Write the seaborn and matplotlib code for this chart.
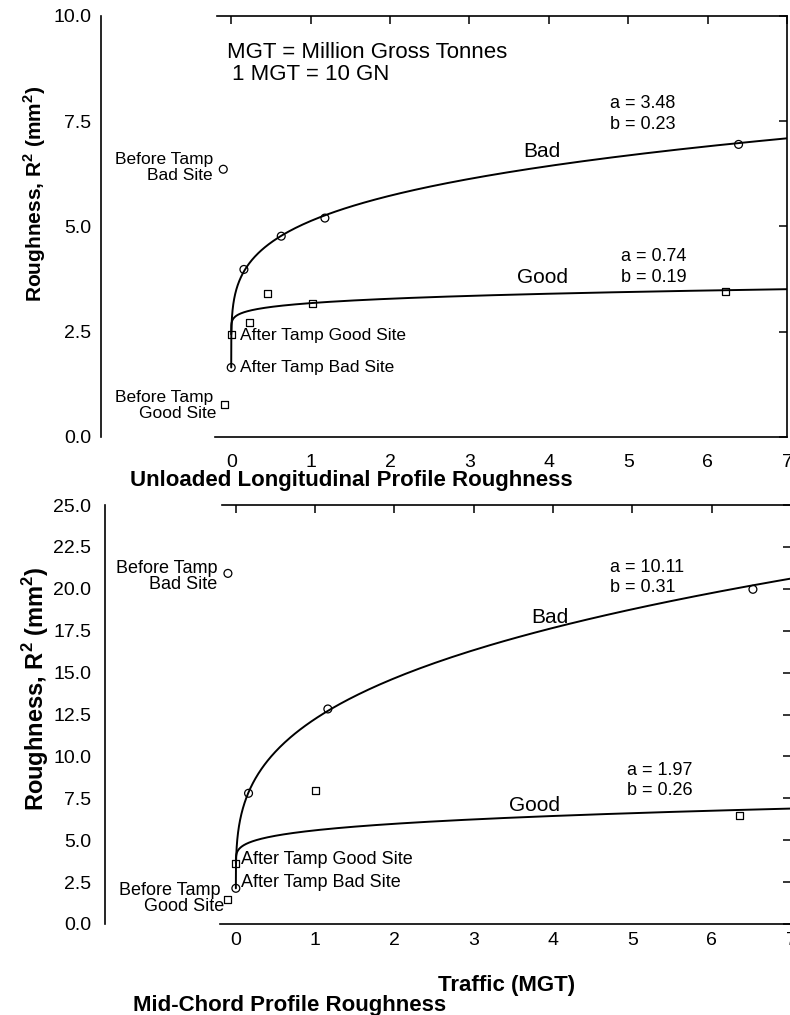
import numpy as np
import seaborn as sns
import matplotlib.pyplot as plt

# Unloaded longitudinal profile (top panel)
lp_bad_x = [-0.10, 0.0, 0.16, 0.63, 1.18, 6.39]
lp_bad_y = [6.36, 1.65, 3.98, 4.77, 5.20, 6.95]
lp_good_x = [-0.09, 0.0, 0.23, 0.46, 1.02, 6.23]
lp_good_y = [0.78, 2.44, 2.72, 3.40, 3.18, 3.45]

# Mid-chord profile (bottom panel)
mc_bad_x = [-0.10, 0.0, 0.16, 1.16, 6.52]
mc_bad_y = [20.92, 2.13, 7.80, 12.83, 19.97]
mc_good_x = [-0.10, 0.0, 1.00, 6.35]
mc_good_y = [1.47, 3.62, 7.95, 6.46]

# fitted curves: y = y0 + a * x^b (y0 = after tamp value)
lp_fit_a = {'Bad': 3.48, 'Good': 0.74}
lp_fit_b = {'Bad': 0.23, 'Good': 0.19}
mc_fit_a = {'Bad': 10.11, 'Good': 1.97}
mc_fit_b = {'Bad': 0.31, 'Good': 0.26}

x_ticks = [0, 1, 2, 3, 4, 5, 6, 7]
lp_y_ticks = [0.0, 2.5, 5.0, 7.5, 10.0]
mc_y_ticks = [0.0, 2.5, 5.0, 7.5, 10.0, 12.5, 15.0, 17.5, 20.0, 22.5, 25.0]

sns.set_theme(style='white')
plt.rcParams['font.family'] = ['Liberation Sans', 'DejaVu Sans']
plt.rcParams['mathtext.fontset'] = 'custom'
plt.rcParams['mathtext.rm'] = 'Liberation Sans'
plt.rcParams['mathtext.bf'] = 'Liberation Sans:bold'

fig = plt.figure(figsize=(7.9, 10.15), dpi=100)
W, H = 790, 1015
ax1 = fig.add_axes([101 / W, 1 - 437 / H, 686 / W, 421 / H])
ax2 = fig.add_axes([105 / W, 1 - 924 / H, 686 / W, 419 / H])

x_fit = np.concatenate([[0.0], np.geomspace(1e-5, 7, 500)])


def draw_panel(ax, bad_x, bad_y, good_x, good_y, fit_a, fit_b):
    y0 = {'Bad': bad_y[1], 'Good': good_y[1]}
    for k in ['Bad', 'Good']:
        sns.lineplot(x=x_fit, y=y0[k] + fit_a[k] * x_fit ** fit_b[k], ax=ax,
                     color='black', lw=1.4, estimator=None, sort=False)
    sns.scatterplot(x=bad_x, y=bad_y, ax=ax, marker='o', s=32,
                    facecolor='none', edgecolor='black', linewidth=0.9, zorder=5)
    sns.scatterplot(x=good_x, y=good_y, ax=ax, marker='s', s=26,
                    facecolor='none', edgecolor='black', linewidth=0.9, zorder=5)
    ax.set_xlim(-1.64, 7.0)
    ax.set_xticks(x_ticks)
    for s in ax.spines.values():
        s.set_color('black')
        s.set_linewidth(1.2)
    ax.spines['bottom'].set_bounds(-0.2, 7)
    ax.spines['top'].set_bounds(-0.18, 7)
    ax.tick_params(direction='in', length=6, width=1.1, colors='black',
                   top=True, right=True, labeltop=False, labelright=False,
                   labelsize=14)
    ax.set_xlabel('')
    ax.set_ylabel('')


draw_panel(ax1, lp_bad_x, lp_bad_y, lp_good_x, lp_good_y, lp_fit_a, lp_fit_b)
ax1.set_ylim(0, 10)
ax1.set_yticks(lp_y_ticks)
ax1.set_yticklabels([f'{v:.1f}' for v in lp_y_ticks])
ax1.tick_params(axis='y', pad=7)
ax1.tick_params(axis='x', pad=12)

draw_panel(ax2, mc_bad_x, mc_bad_y, mc_good_x, mc_good_y, mc_fit_a, mc_fit_b)
ax2.set_xlim(-1.65, 7.0)
ax2.set_ylim(0, 25)
ax2.set_yticks(mc_y_ticks)
ax2.set_yticklabels([f'{v:.1f}' for v in mc_y_ticks])
ax2.tick_params(axis='y', pad=10)
ax2.tick_params(axis='x', pad=6)

# top panel notes
t = dict(color='black', va='center')
ax1.text(-0.05, 9.14, 'MGT = Million Gross Tonnes', fontsize=16, **t)
ax1.text(0.01, 8.60, '1 MGT = 10 GN', fontsize=16, **t)
ax1.text(4.77, 7.93, f"a = {lp_fit_a['Bad']:.2f}", fontsize=13, **t)
ax1.text(4.77, 7.43, f"b = {lp_fit_b['Bad']:.2f}", fontsize=13, **t)
ax1.text(3.91, 6.77, 'Bad', fontsize=15, ha='center', **t)
ax1.text(4.91, 4.28, f"a = {lp_fit_a['Good']:.2f}", fontsize=13, **t)
ax1.text(4.91, 3.78, f"b = {lp_fit_b['Good']:.2f}", fontsize=13, **t)
ax1.text(3.92, 3.78, 'Good', fontsize=15, ha='center', **t)
ax1.text(-0.23, 6.60, 'Before Tamp', fontsize=12.5, ha='right', **t)
ax1.text(-0.24, 6.22, 'Bad Site', fontsize=12.5, ha='right', **t)
ax1.text(-0.23, 0.95, 'Before Tamp', fontsize=12.5, ha='right', **t)
ax1.text(-0.19, 0.55, 'Good Site', fontsize=12.5, ha='right', **t)
ax1.text(0.11, 2.42, 'After Tamp Good Site', fontsize=12.5, **t)
ax1.text(0.11, 1.66, 'After Tamp Bad Site', fontsize=12.5, **t)

# bottom panel notes
ax2.text(-0.23, 21.24, 'Before Tamp', fontsize=13, ha='right', **t)
ax2.text(-0.23, 20.23, 'Bad Site', fontsize=13, ha='right', **t)
ax2.text(4.72, 21.30, f"a = {mc_fit_a['Bad']:.2f}", fontsize=13, **t)
ax2.text(4.72, 20.05, f"b = {mc_fit_b['Bad']:.2f}", fontsize=13, **t)
ax2.text(3.96, 18.26, 'Bad', fontsize=15, ha='center', **t)
ax2.text(4.93, 9.13, f"a = {mc_fit_a['Good']:.2f}", fontsize=13, **t)
ax2.text(4.93, 7.94, f"b = {mc_fit_b['Good']:.2f}", fontsize=13, **t)
ax2.text(3.77, 7.10, 'Good', fontsize=15, ha='center', **t)
ax2.text(0.06, 3.82, 'After Tamp Good Site', fontsize=13, **t)
ax2.text(0.06, 2.45, 'After Tamp Bad Site', fontsize=13, **t)
ax2.text(-0.19, 1.97, 'Before Tamp', fontsize=13, ha='right', **t)
ax2.text(-0.15, 1.07, 'Good Site', fontsize=13, ha='right', **t)

# axis titles
bold = dict(fontweight='bold', color='black')
fig.text(35 / W, 1 - 194 / H, r'Roughness, R$^\mathbf{2}$ (mm$^\mathbf{2}$)',
         rotation=90, ha='center', va='center', fontsize=15, **bold)
fig.text(36 / W, 1 - 689 / H, r'Roughness, R$^\mathbf{2}$ (mm$^\mathbf{2}$)',
         rotation=90, ha='center', va='center', fontsize=17, **bold)
fig.text(130 / W, 1 - 481 / H, 'Unloaded Longitudinal Profile Roughness',
         ha='left', va='center', fontsize=16, **bold)
fig.text(507 / W, 1 - 985 / H, 'Traffic (MGT)',
         ha='center', va='center', fontsize=16, **bold)
fig.text(133 / W, 1 - 1005 / H, 'Mid-Chord Profile Roughness',
         ha='left', va='center', fontsize=16, **bold)

fig.savefig('out.png', dpi=100)
